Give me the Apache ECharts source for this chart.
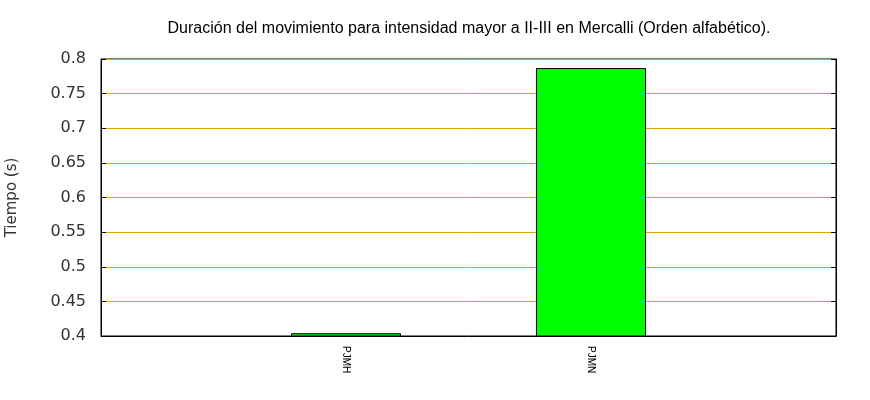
<!DOCTYPE html>
<html><head><meta charset="utf-8">
<script src="https://cdn.jsdelivr.net/npm/echarts@6/dist/echarts.min.js"></script>
<style>html,body{margin:0;padding:0;background:#fff}#c{width:870px;height:400px}</style>
</head><body><div id="c"></div>
<script>
const categories = ['PJMH', 'PJMN'];
const durations = [0.404, 0.787];
const yTicks = [0.4, 0.45, 0.5, 0.55, 0.6, 0.65, 0.7, 0.75, 0.8];

const slots = [''].concat(categories, ['']);
const values = [null].concat(durations, [null]);

const chart = echarts.init(document.getElementById('c'), null, {renderer: 'canvas'});
const yBase = {
  type: 'value', min: yTicks[0], max: yTicks[yTicks.length - 1], interval: 0.05,
  axisLine: {show: true, lineStyle: {color: '#000', width: 1}},
  axisTick: {show: true, inside: true, length: 5, lineStyle: {color: '#000'}},
};
chart.setOption({
  animation: false,
  backgroundColor: '#fff',
  title: {
    text: 'Duración del movimiento para intensidad mayor a II-III en Mercalli (Orden alfabético).',
    left: 464, top: 16, textAlign: 'center',
    textStyle: {fontFamily: 'Liberation Sans, sans-serif', fontSize: 16, fontWeight: 'normal', color: '#000'}
  },
  grid: {left: 101, right: 34, top: 59, bottom: 64, containLabel: false, outerBoundsMode: 'none',
    show: true, borderColor: '#000', borderWidth: 1, backgroundColor: 'transparent'},
  xAxis: {
    type: 'category', data: slots, boundaryGap: false,
    axisLine: {show: true, lineStyle: {color: '#000'}},
    axisTick: {show: false},
    splitLine: {show: false},
    axisLabel: {rotate: -90, fontSize: 10, color: '#000', margin: 10, interval: 0,
      fontFamily: 'Liberation Sans, sans-serif'}
  },
  yAxis: [
    Object.assign({}, yBase, {
      position: 'left',
      name: 'Tiempo (s)', nameLocation: 'middle', nameGap: 81, nameRotate: 90,
      nameTextStyle: {fontSize: 15, color: '#333', fontFamily: 'DejaVu Sans, sans-serif'},
      axisLabel: {fontSize: 16, color: '#333', margin: 15, fontFamily: 'DejaVu Sans, sans-serif',
        formatter: v => String(+v.toFixed(2))},
      splitLine: {show: true, lineStyle: {color: '#e0a000', width: 1}}
    }),
    Object.assign({}, yBase, {
      position: 'right', axisLabel: {show: false}, splitLine: {show: false}
    })
  ],
  series: [{
    type: 'bar', data: values, barWidth: 110, yAxisIndex: 0,
    itemStyle: {color: '#00ff00', borderColor: '#000', borderWidth: 1},
    clip: true
  }]
});
</script></body></html>
